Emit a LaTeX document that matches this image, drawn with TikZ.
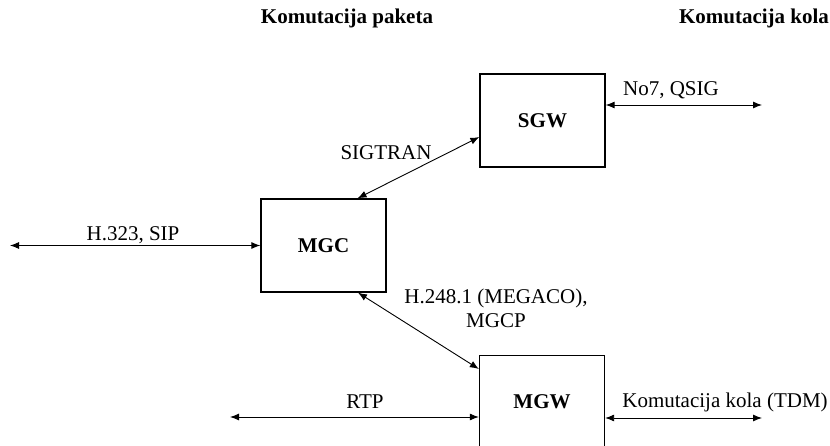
\documentclass[tikz,border=0pt]{standalone}
\usepackage{fontspec}
\setmainfont{Liberation Serif}
\usetikzlibrary{arrows.meta}
\begin{document}
\begin{tikzpicture}[x=1pt,y=-1pt,
  every node/.style={font=\fontsize{21}{24}\selectfont},
  unit/.style={draw, line width=1.3pt, minimum width=125pt, minimum height=93pt,
    inner sep=0pt, font=\fontsize{21}{24}\selectfont\bfseries},
  link/.style={line width=0.9pt, {Latex[length=9pt,width=7pt]}-{Latex[length=9pt,width=7pt]}},
  heading/.style={font=\fontsize{21}{24}\selectfont\bfseries},
  lbl/.style={inner sep=0pt, align=center}]
\clip (0,0) rectangle (830,446);
\useasboundingbox (0,0) rectangle (830,446);

% section headings
\node[heading] (hpkt) at (347,18) {Komutacija paketa};
\node[heading] (hkol) at (754,18) {Komutacija kola};

% network elements
\node[unit] (SGW) at (542.5,120.5) {SGW};
\node[unit] (MGC) at (323.5,245.5) {MGC};
\node[unit] (MGW) at (542,402) {MGW};

% free ends of the external links
\coordinate (ipL) at (10,245.5);
\coordinate (ss7R) at (762,105);
\coordinate (rtpL) at (230,417);
\coordinate (tdmR) at (762,418);

% links
\draw[link] (ipL) -- (MGC.west);
\draw[link] ([yshift=15.5pt]SGW.east) -- (ss7R);
\draw[link] ([xshift=34pt]MGC.north) -- ([yshift=-16.5pt]SGW.west);
\draw[link] ([xshift=34.5pt]MGC.south) -- ([yshift=33pt]MGW.west);
\draw[link] (rtpL) -- ([yshift=-15pt]MGW.west);
\draw[link] ([yshift=-16pt]MGW.east) -- (tdmR);

% link labels
\node[lbl] (lip) at (133,235) {H.323, SIP};
\node[lbl] (lss7) at (671,90) {No7, QSIG};
\node[lbl] (lsig) at (386,153) {SIGTRAN};
\node[lbl] (lh248) at (496,308) {H.248.1 (MEGACO),\\MGCP};
\node[lbl] (lrtp) at (365,402) {RTP};
\node[lbl] (ltdm) at (725,402) {Komutacija kola (TDM)};
\end{tikzpicture}
\end{document}
